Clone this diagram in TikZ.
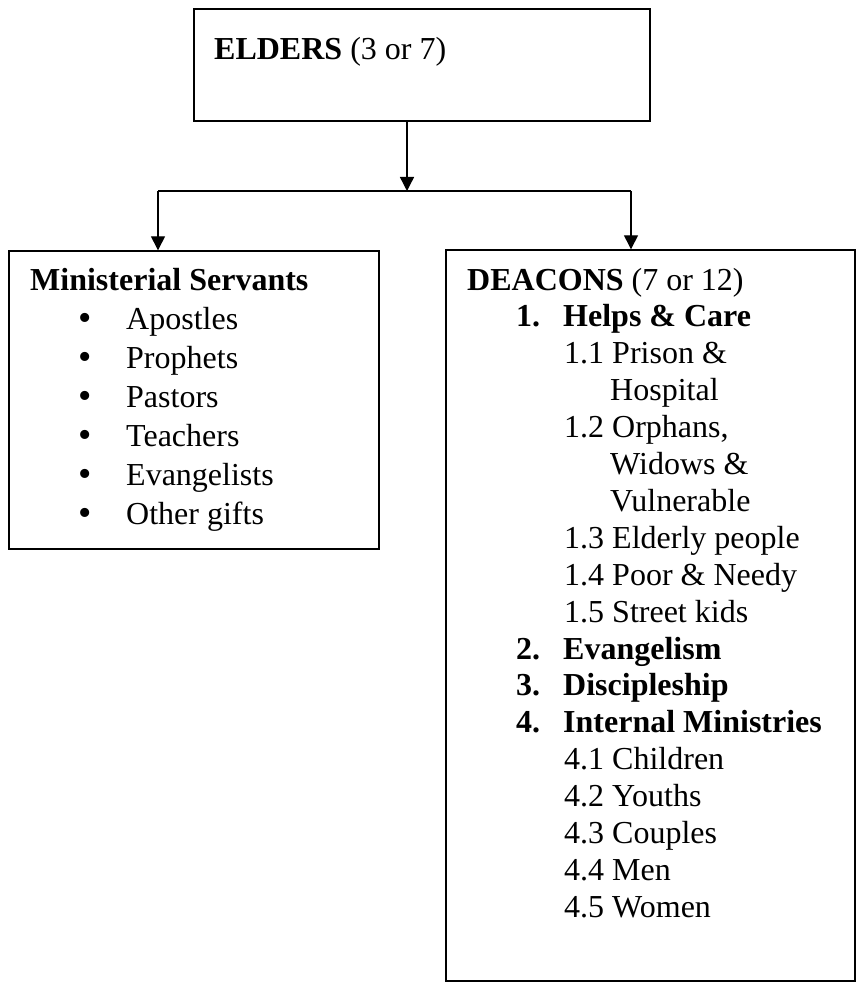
\documentclass[tikz,border=0pt]{standalone}
\usepackage{fontspec}
\setmainfont{Liberation Serif}
\usetikzlibrary{arrows.meta,calc,positioning}

\begin{document}
\begin{tikzpicture}[x=1pt, y=-1pt,
					every node/.style={font=\fontsize{32}{37}\selectfont},
					box/.style={draw, line width=1.4pt, inner sep=0pt},
					line/.style={draw, line width=1.4pt},
					arr/.style={line, -{Triangle[length=14pt,width=14pt]}},
					txt/.style={anchor=base west, inner sep=0pt},
					bullet/.style={anchor=base, inner sep=0pt, font=\fontsize{38}{38}\selectfont}
				]
				\useasboundingbox (0,0) rectangle (858,984);
				
				\node[box, minimum width=456, minimum height=112] (elders) at (422,65) {};
				\node[box, minimum width=370, minimum height=298] (ministers) at (194,400) {};
				\node[box, minimum width=409, minimum height=731] (deacons) at (650.5,615.5) {};
				
				\node[txt] (eldtitle) at (214,60) {\textbf{ELDERS} (3 or 7)};
				
				% left box
				\node[txt] (mintitle) at (30,290) {\textbf{Ministerial Servants}};
				\foreach \txt [count=\i] in {Apostles, Prophets, Pastors, Teachers, Evangelists, Other gifts} {
					\node[bullet] (bul-\i) at (85,291+39*\i) {\smash{•}};
					\node[txt] (min-\i) at (126,290+39*\i) {\txt};
				}
				
				% right box
				\node[txt] (deatitle) at (467,290) {\textbf{DEACONS} (7 or 12)};
				\foreach \k/\n/\txt in {1/1./Helps \& Care, 10/2./Evangelism, 11/3./Discipleship, 12/4./Internal Ministries} {
					\node[txt] (num-\k) at (516,290+36.9*\k) {\textbf{\n}};
					\node[txt] (head-\k) at (563,290+36.9*\k) {\textbf{\txt}};
				}
				\foreach \k/\txt in {2/1.1 Prison \&, 4/{1.2 Orphans,}, 7/1.3 Elderly people, 8/1.4 Poor \& Needy, 9/1.5 Street kids,
						13/4.1 Children, 14/4.2 Youths, 15/4.3 Couples, 16/4.4 Men, 17/4.5 Women} {
					\node[txt] (sub-\k) at (564,290+36.9*\k) {\txt};
				}
				\foreach \k/\txt in {3/Hospital, 5/Widows \&, 6/Vulnerable} {
					\node[txt] (cont-\k) at (610,290+36.9*\k) {\txt};
				}
				
				\coordinate (split) at (407,191);
				\coordinate (lsplit) at (158,191);
				\coordinate (rsplit) at (631,191);
				
				\draw[arr] (split |- elders.south) -- (split);
				\draw[line] (lsplit) -- (rsplit);
				\draw[arr] (lsplit) -- (lsplit |- ministers.north);
				\draw[arr] (rsplit) -- (rsplit |- deacons.north);
			\end{tikzpicture}
\end{document}
